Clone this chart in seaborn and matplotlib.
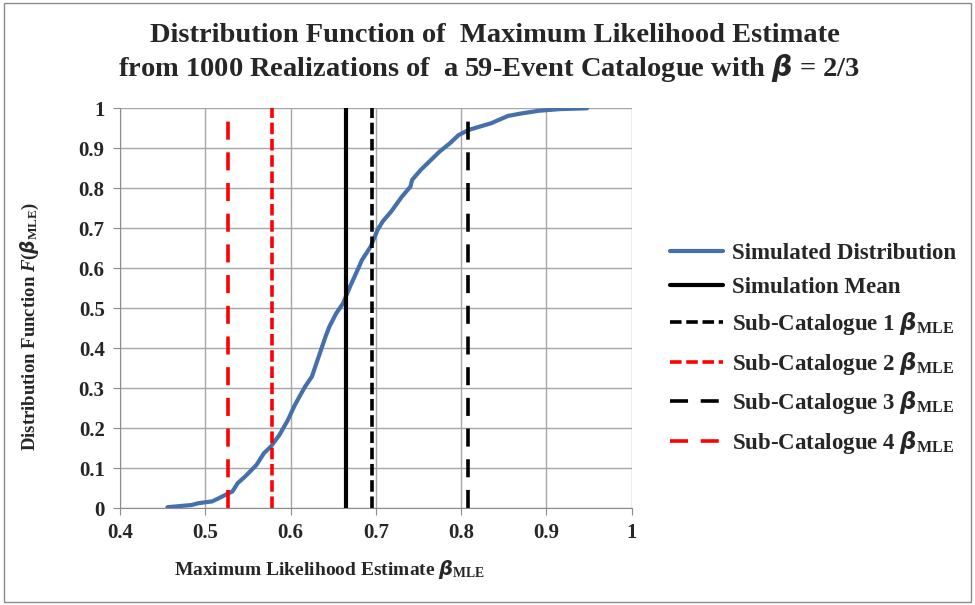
import numpy as np
import pandas as pd
import matplotlib
matplotlib.use("Agg")
import matplotlib.pyplot as plt
import seaborn as sns
from matplotlib.patches import Rectangle

# simulated CDF
beta_mle = [0.4557, 0.484, 0.492, 0.508, 0.516, 0.526, 0.532, 0.538, 0.5466, 0.560,
            0.5688, 0.5768, 0.5869, 0.597, 0.605, 0.617, 0.625, 0.633, 0.641, 0.6455,
            0.6536, 0.6616, 0.6697, 0.6777, 0.6838, 0.6939, 0.702, 0.708, 0.718, 0.7305,
            0.7405, 0.7425, 0.7526, 0.7647, 0.7748, 0.7868, 0.7969, 0.809, 0.819, 0.835,
            0.855, 0.8716, 0.8917, 0.916, 0.9475]
cdf = [0.0025, 0.008, 0.0125, 0.017, 0.025, 0.036, 0.042, 0.0625, 0.079, 0.108,
       0.1375, 0.154, 0.183, 0.221, 0.258, 0.304, 0.329, 0.379, 0.429, 0.454,
       0.4875, 0.5125, 0.554, 0.5917, 0.621, 0.654, 0.696, 0.717, 0.742, 0.779,
       0.804, 0.821, 0.846, 0.871, 0.892, 0.9125, 0.933, 0.946, 0.9525, 0.9625,
       0.981, 0.9875, 0.994, 0.998, 1.0]

sim_mean = 0.665
sub_values = [0.696, 0.578, 0.808, 0.527]
sub_tops = [1.0, 1.0, 0.97, 0.97]
sub_colors = ["black", "red", "black", "red"]
sub_dashes = [(3.2, 1.3), (3.2, 1.3), (5, 3.5), (5, 3.5)]

sns.set_style("white")
plt.rcParams["font.family"] = ["Liberation Serif", "DejaVu Serif"]
plt.rcParams["mathtext.fontset"] = "custom"
plt.rcParams["mathtext.rm"] = "Liberation Serif:bold"
plt.rcParams["mathtext.it"] = "Liberation Serif:italic:bold"
plt.rcParams["mathtext.bf"] = "Liberation Serif:bold"
plt.rcParams["mathtext.sf"] = "DejaVu Sans:italic:bold"

fig = plt.figure(figsize=(9.75, 6.05), dpi=100)
ax = fig.add_axes([0.123, 0.160, 0.525, 0.661])

df = pd.DataFrame({"beta": beta_mle, "F": cdf})
sns.lineplot(data=df, x="beta", y="F", ax=ax, color="#4670AB", lw=3,
             label="Simulated Distribution")

ax.plot([sim_mean, sim_mean], [0, 1], color="black", lw=3, label="Simulation Mean")
for i, (v, top, c, d) in enumerate(zip(sub_values, sub_tops, sub_colors, sub_dashes)):
    ax.plot([v, v], [0, top], color=c, lw=2.6, dashes=d,
            label=r"Sub-Catalogue %d $\mathsf{\beta}_{\mathrm{MLE}}$" % (i + 1))

ax.set_xlim(0.4, 1.0)
ax.set_ylim(0, 1.0)
ax.set_xticks(np.arange(0.4, 1.01, 0.1))
ax.set_yticks(np.arange(0, 1.01, 0.1))
ax.set_xticklabels(["0.4", "0.5", "0.6", "0.7", "0.8", "0.9", "1"])
ax.set_yticklabels(["0", "0.1", "0.2", "0.3", "0.4", "0.5", "0.6", "0.7", "0.8", "0.9", "1"])
ax.grid(True, color="#a6a6a6", lw=1)
for s in ["top", "right"]:
    ax.spines[s].set_visible(False)
for s in ["left", "bottom"]:
    ax.spines[s].set_color("#8c8c8c")
ax.tick_params(axis="both", length=5, color="#8c8c8c", labelsize=15, direction="out",
               bottom=True, left=True, pad=6)
for lbl in ax.get_xticklabels() + ax.get_yticklabels():
    lbl.set_fontweight("bold")

ax.set_xlabel(r"Maximum Likelihood Estimate $\mathsf{\beta}_{\mathrm{MLE}}$", fontsize=14,
              fontweight="bold")
ax.xaxis.set_label_coords(0.41, -0.125)
ax.set_ylabel(r"Distribution Function $F(\mathsf{\beta}_{\mathrm{MLE}})$", fontsize=13.5,
              fontweight="bold")
ax.yaxis.set_label_coords(-0.155, 0.455)

fig.text(0.508, 0.942, "Distribution Function of  Maximum Likelihood Estimate",
         ha="center", va="center", fontsize=20.5, fontweight="bold")
fig.text(0.502, 0.887, r"from 1000 Realizations of  a 59-Event Catalogue with $\mathsf{\beta}$ = 2/3",
         ha="center", va="center", fontsize=20.5, fontweight="bold")

leg = ax.legend(loc="upper left", bbox_to_anchor=(1.035, 0.715), frameon=False,
                handlelength=2.3, handletextpad=0.4, labelspacing=0.55,
                prop={"weight": "bold", "size": 16.5})

fig.patches.append(Rectangle((0.004, 0.005), 0.992, 0.99, transform=fig.transFigure,
                             fill=False, edgecolor="#8c8c8c", lw=1))

fig.savefig("out.png", dpi=100)
